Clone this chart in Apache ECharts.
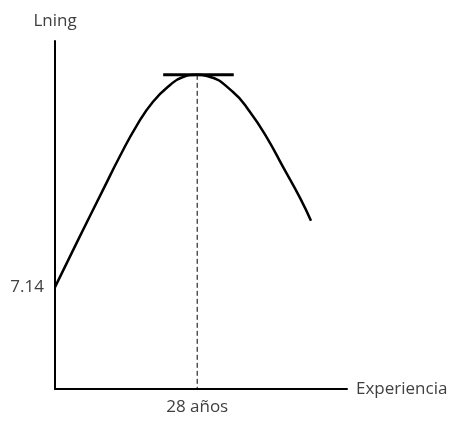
<!DOCTYPE html>
<html>
<head>
<meta charset="utf-8">
<script src="https://cdn.jsdelivr.net/npm/echarts@6/dist/echarts.min.js"></script>
<style>html,body{margin:0;padding:0;background:#fff}#c{width:452px;height:431px}</style>
</head>
<body>
<div id="c"></div>
<script>
// Experience (years) and ln wage
var experiencia = [0, 4.53, 9.45, 12.8, 16.15, 19.3, 22.65, 25.21, 28, 29.93, 35.05, 38.4, 41.75, 44.9, 48.25, 50.41];
var lning = [7.14, 7.269, 7.407, 7.500, 7.585, 7.649, 7.695, 7.717, 7.723, 7.720, 7.676, 7.621, 7.550, 7.470, 7.385, 7.322];
var picoX = 28;
var picoY = 7.723;
var tangenteX = [21.3, 35.2];
var interceptoLabel = 7.14;
var xLabelTexto = '28 años';
var yNombre = 'Lning';
var xNombre = 'Experiencia';

var textColor = '#404040';
var font = 'Open Sans';
var fs = 17;

var curva = experiencia.map(function (x, i) { return [x, lning[i]]; });

var chart = echarts.init(document.getElementById('c'));
chart.setOption({
  animation: false,
  grid: { left: 55, top: 41, width: 292, height: 348 },
  xAxis: {
    type: 'value', min: 0, max: 57.5, interval: 28,
    name: xNombre, nameLocation: 'end', nameGap: 9,
    nameTextStyle: { color: textColor, fontFamily: font, fontSize: fs },
    axisLine: { lineStyle: { color: '#000', width: 2 } },
    axisTick: { show: false },
    splitLine: { show: false },
    axisLabel: {
      color: textColor, fontFamily: font, fontSize: fs, margin: 10,
      formatter: function (v) { return Math.abs(v - picoX) < 1e-6 ? xLabelTexto : ''; }
    }
  },
  yAxis: {
    type: 'value', min: 6.86, max: 7.816, interval: 0.14,
    name: yNombre, nameLocation: 'end', nameGap: 11,
    nameTextStyle: { color: textColor, fontFamily: font, fontSize: fs },
    axisLine: { show: true, lineStyle: { color: '#000', width: 2 } },
    axisTick: { show: false },
    splitLine: { show: false },
    axisLabel: {
      color: textColor, fontFamily: font, fontSize: fs, margin: 11,
      formatter: function (v) { return Math.abs(v - interceptoLabel) < 1e-6 ? interceptoLabel.toFixed(2) : ''; }
    }
  },
  series: [
    {
      type: 'line', data: curva, smooth: 0.5, symbol: 'none',
      lineStyle: { color: '#000', width: 2.5 }, z: 3
    },
    {
      type: 'line', data: [[tangenteX[0], picoY], [tangenteX[1], picoY]], symbol: 'none',
      lineStyle: { color: '#000', width: 3 }, z: 4
    },
    {
      type: 'line', data: [[picoX, picoY], [picoX, 6.86]], symbol: 'none',
      lineStyle: { color: '#000', width: 1, type: [5, 3] }, z: 2
    }
  ]
});
</script>
</body>
</html>
